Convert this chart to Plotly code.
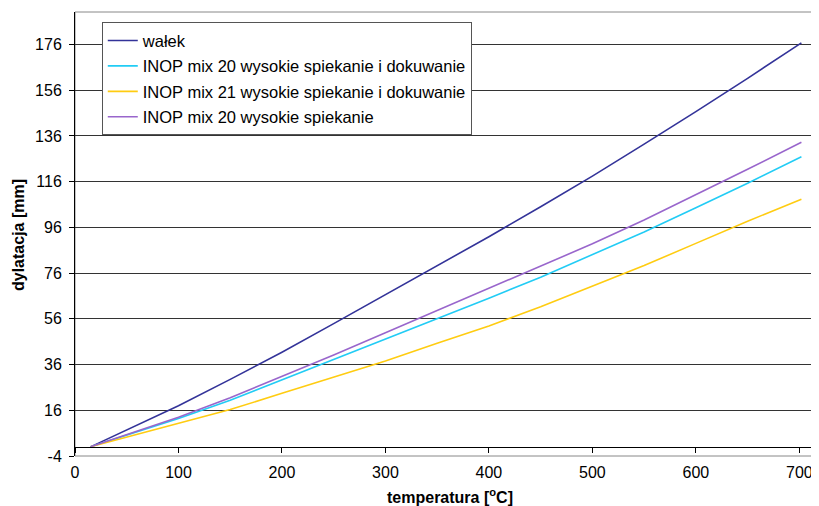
import plotly.graph_objects as go

temperature = [15, 50, 100, 150, 200, 250, 300, 350, 400, 450, 500, 550, 600, 650, 702]
walek = [0, 7.3, 18.0, 29.5, 41.4, 53.9, 66.5, 79.1, 91.9, 105.0, 118.4, 132.4, 146.6, 161.2, 176.7]
mix20_spiek_dok = [0, 5.1, 12.4, 20.4, 29.3, 38.1, 47.0, 55.9, 65.0, 74.2, 84.0, 94.0, 104.6, 115.3, 126.9]
mix21_spiek_dok = [0, 4.2, 10.3, 16.3, 23.4, 30.4, 37.6, 45.3, 52.9, 61.3, 70.2, 79.3, 89.0, 98.7, 108.3]
mix20_spiek = [0, 5.3, 12.9, 21.5, 30.8, 40.2, 49.9, 59.6, 69.1, 78.8, 88.8, 99.2, 110.2, 121.4, 133.2]

series_names = [
    "wałek",
    "INOP mix 20 wysokie spiekanie i dokuwanie",
    "INOP mix 21 wysokie spiekanie i dokuwanie",
    "INOP mix 20 wysokie spiekanie",
]
series_values = [walek, mix20_spiek_dok, mix21_spiek_dok, mix20_spiek]
series_colors = ["#333399", "#22CCF5", "#FFCC11", "#9966CC"]

y_ticks = [-4, 16, 36, 56, 76, 96, 116, 136, 156, 176]
y_tick_labels = ["-4", "16", "36", "56", "76", "96", "116", "136", "156", "176"]
x_ticks = [0, 100, 200, 300, 400, 500, 600, 700]
x_tick_labels = ["0", "100", "200", "300", "400", "500", "600", "700"]

FONT = "Arial, Liberation Sans, sans-serif"

fig = go.Figure()
for i, (name, vals, col) in enumerate(zip(series_names, series_values, series_colors)):
    fig.add_trace(go.Scatter(
        x=temperature, y=vals, mode="lines", name=name,
        line=dict(color=col, width=1.6), legendgroup=f"g{i}",
    ))

y_min, y_max = -4, 190.2
x_pos = (0 - y_min) / (y_max - y_min)

# page has an 8px body margin; figure is sized so the plot area lands at x 75..819, y 12..456
fig.update_layout(
    width=811, height=498,
    margin=dict(l=67, r=0, t=4, b=50),
    paper_bgcolor="white", plot_bgcolor="white",
    font=dict(family=FONT, size=16, color="black"),
    showlegend=True,
    legend=dict(
        x=0.036, y=0.977, xanchor="left", yanchor="top",
        bgcolor="white", bordercolor="#555555", borderwidth=1,
        font=dict(family=FONT, size=16.5), tracegroupgap=1,
    ),
    xaxis=dict(
        range=[0, 719], tickvals=x_ticks, ticktext=x_tick_labels,
        ticks="outside", ticklen=5,
        tickcolor="black", showline=True, linecolor="black", linewidth=1,
        showgrid=False, zeroline=False, anchor="free", position=x_pos,
        ticklabelstandoff=6, automargin=False,
    ),
    yaxis=dict(
        range=[y_min, y_max], tickvals=y_ticks, ticktext=y_tick_labels,
        ticks="outside", ticklen=5,
        tickcolor="black", showline=True, linecolor="black", linewidth=1,
        showgrid=True, gridcolor="#333333", gridwidth=1, zeroline=False,
        ticklabelstandoff=4, automargin=False,
    ),
    shapes=[dict(type="rect", xref="paper", yref="paper", x0=0, x1=1, y0=0, y1=1,
                 line=dict(color="#888888", width=1), layer="below")],
    annotations=[
        dict(text="<b>temperatura [<sup>o</sup>C]</b>", xref="paper", yref="paper",
             x=(450 - 75) / 744, y=-(496 - 456) / 444, xanchor="center", yanchor="middle",
             showarrow=False, font=dict(size=16)),
        dict(text="<b>dylatacja [mm]</b>", xref="paper", yref="paper",
             x=-(75 - 18) / 744, y=(456 - 235) / 444, xanchor="center", yanchor="middle",
             textangle=-90, showarrow=False, font=dict(size=16)),
    ],
)

fig.write_html("out.html")
